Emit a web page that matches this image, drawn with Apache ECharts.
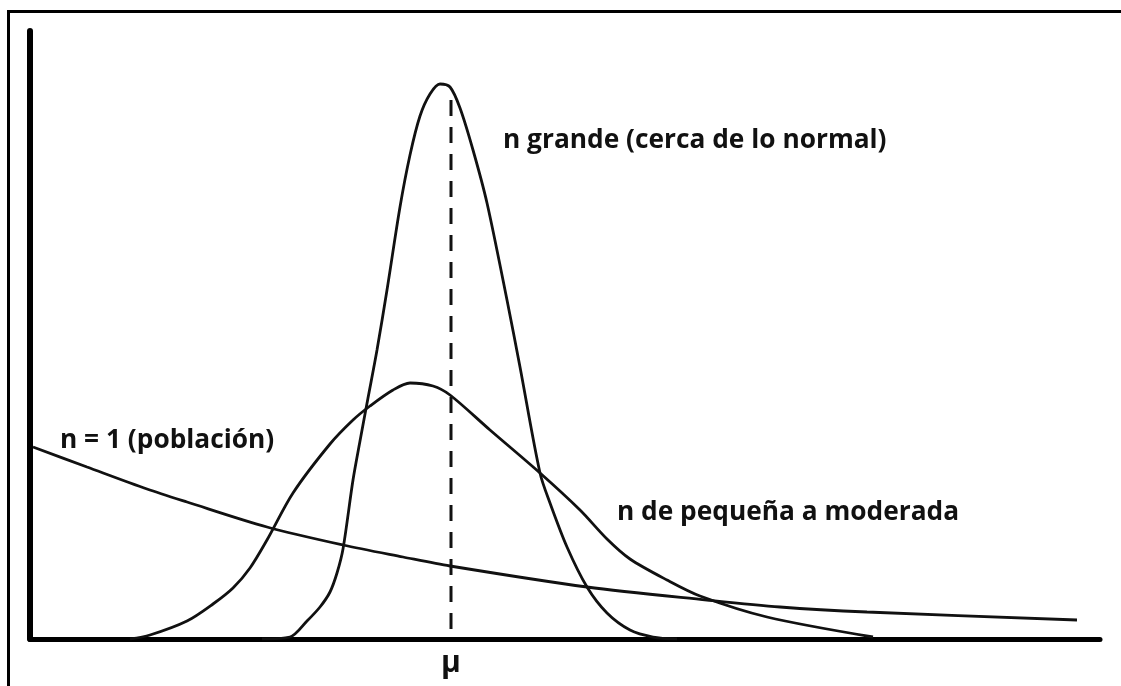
<!DOCTYPE html>
<html>
<head>
<meta charset="utf-8">
<script src="https://cdn.jsdelivr.net/npm/echarts@6/dist/echarts.min.js"></script>
<style>
  html, body { margin: 0; padding: 0; background: #fff; }
  #main { width: 1121px; height: 686px; }
</style>
</head>
<body>
<div id="main"></div>
<script>
// curve points [x, y] (arbitrary units)
var nGrande = [
	[23.2, 0], [26.0, 0.2], [27.7, 1.8], [29.0, 3.2], [30.0, 4.7], [30.7, 6.6],
	[31.3, 9.0], [32.3, 15.9], [33.0, 19.8], [33.8, 24.1], [34.7, 28.9],
	[35.7, 34.9], [37.0, 43.2], [38.0, 48.4], [39.0, 52.3], [40.0, 54.5],
	[41.0, 55.5], [42.0, 55.2], [43.0, 53.1], [44.3, 48.9], [45.7, 43.6],
	[47.7, 33.9], [49.0, 27.2], [51.0, 16.6], [52.0, 13.6], [53.7, 9.2],
	[55.7, 5.2], [57.7, 2.6], [60.0, 0.9], [62.3, 0.2], [64.7, 0]
];
var nModerada = [
	[10.0, 0], [12.0, 0.4], [15.7, 1.8], [18.3, 3.5], [20.3, 5.1], [22.0, 7.1],
	[23.7, 9.9], [26.3, 14.6], [30.0, 19.5], [32.3, 21.9], [34.0, 23.3],
	[36.3, 24.9], [38.0, 25.6], [40.3, 25.3], [42.0, 24.4], [46.0, 20.9],
	[51.0, 16.6], [55.0, 12.9], [57.7, 10.0], [60.0, 8.0], [63.7, 5.9],
	[67.0, 4.3], [73.7, 2.2], [84.3, 0.2]
];
var nUno = [
	[0.3, 19.2], [5.7, 17.2], [11.7, 15.0], [15.7, 13.7], [23.7, 11.2],
	[31.3, 9.4], [37.3, 8.2], [42.0, 7.3], [55.7, 5.2], [67.7, 3.9],
	[75.0, 3.2], [83.7, 2.7], [104.7, 1.9]
];
var mu = 42.1;
var muTop = 53.9;

var labels = {
	grande: 'n grande (cerca de lo normal)',
	moderada: 'n de pequeña a moderada',
	uno: 'n = 1 (población)',
	mu: 'μ'
};

var chart = echarts.init(document.getElementById('main'));

var curve = function (data) {
	return {
		type: 'line',
		data: data,
		smooth: 0.3,
		symbol: 'none',
		lineStyle: { color: '#111', width: 2.8 },
		z: 3
	};
};

var txtStyle = function (text, size) {
	return {
		text: text,
		fill: '#111',
		font: 'bold ' + size + 'px "Open Sans", sans-serif',
		textVerticalAlign: 'middle'
	};
};

chart.setOption({
	animation: false,
	backgroundColor: '#fff',
	grid: { left: 30, right: 21, top: 31, bottom: 47 },
	xAxis: {
		type: 'value',
		min: 0,
		max: 107,
		axisLine: { lineStyle: { color: '#000', width: 5 } },
		axisTick: { show: false },
		axisLabel: { show: false },
		splitLine: { show: false }
	},
	yAxis: {
		type: 'value',
		min: 0,
		max: 60.8,
		axisLine: { show: true, lineStyle: { color: '#000', width: 6 } },
		axisTick: { show: false },
		axisLabel: { show: false },
		splitLine: { show: false }
	},
	series: [
		curve(nGrande),
		curve(nModerada),
		curve(nUno),
		{
			type: 'line',
			data: [[mu, muTop], [mu, 0]],
			symbol: 'none',
			lineStyle: { color: '#111', width: 3, type: [16, 11] },
			z: 2
		}
	],
	graphic: [
		{
			type: 'rect',
			shape: { x: 8.5, y: 11.5, width: 1300, height: 900 },
			style: { fill: null, stroke: '#000', lineWidth: 3 },
			silent: true
		},
		{ type: 'text', x: 503, y: 141, style: txtStyle(labels.grande, 26.3) },
		{ type: 'text', x: 617, y: 513, style: txtStyle(labels.moderada, 26.3) },
		{ type: 'text', x: 60, y: 441, style: txtStyle(labels.uno, 26.3) },
		{ type: 'text', x: 441, y: 663, style: txtStyle(labels.mu, 30) }
	]
});
</script>
</body>
</html>
